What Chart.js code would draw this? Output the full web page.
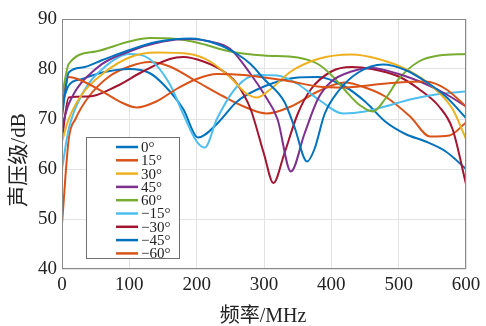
<!DOCTYPE html>
<html>
<head>
<meta charset="utf-8">
<script src="https://cdn.jsdelivr.net/npm/chart.js@4"></script>
<style>
  html, body { margin: 0; padding: 0; background: #fff; }
  #wrap { width: 486px; height: 326px; }
</style>
</head>
<body>
<div id="wrap"><canvas id="c" width="486" height="326"></canvas></div>
<script>
// angle labels (legend order)
const angles = ['0°', '15°', '30°', '45°', '60°', '−15°', '−30°', '−45°', '−60°'];
const colors = ['#0072BD', '#D95319', '#EDB120', '#7E2F8E', '#77AC30', '#4DBEEE', '#A2142F', '#0072BD', '#D95319'];

// frequency (MHz) / sound pressure level (dB) for each angle
const f0 = [0, 10, 30, 60, 100, 140, 190, 230, 260, 280, 300, 330, 345, 364, 375, 390, 410, 440, 477, 510, 540, 570, 600];
const s0 = [70.5, 79.3, 80.3, 81.8, 83.8, 85.4, 86.1, 85, 83, 81, 78, 73.5, 68.5, 61.5, 64, 71, 75.5, 79.3, 80.9, 79.8, 77.5, 74.5, 70.2];

const f15 = [0, 10, 30, 60, 90, 111, 140, 170, 200, 230, 270, 300, 340, 380, 420, 460, 500, 540, 570, 600];
const s15 = [72.5, 78.4, 77.6, 75.5, 73.2, 72.3, 73.5, 76, 78, 79, 78.8, 78.3, 77.5, 76.5, 76.3, 76.8, 77.3, 77.5, 76, 72.5];

const f30 = [0, 10, 30, 60, 100, 140, 190, 220, 250, 275, 290, 310, 340, 380, 430, 470, 510, 550, 580, 600];
const s30 = [65.5, 70, 75, 79, 82.3, 83.3, 83, 81.5, 78.3, 75, 74.3, 76, 79.5, 82, 82.9, 82, 80, 76.5, 72, 66];

const f45 = [0, 10, 50, 100, 150, 190, 220, 250, 280, 300, 320, 340, 360, 380, 400, 430, 460, 500, 540, 570, 600];
const s45 = [68.5, 73, 80, 83.5, 85.5, 86, 85.5, 84, 79, 75, 70, 59.5, 67, 74, 77.5, 79.5, 80.2, 79, 77, 75, 72.5];

const f60 = [0, 10, 50, 100, 130, 170, 200, 250, 300, 350, 380, 400, 420, 440, 462, 480, 500, 530, 560, 600];
const s60 = [74.5, 81, 83.5, 85.5, 86.2, 86, 85.3, 83.5, 82.7, 82.3, 81, 78.8, 75.8, 73, 71.5, 74, 78, 81.5, 82.7, 83];

const fm15 = [0, 10, 30, 60, 100, 130, 160, 180, 200, 212, 230, 260, 290, 320, 350, 380, 418, 450, 480, 520, 560, 600];
const sm15 = [60, 68, 75, 80, 83, 82, 77, 71, 65.5, 64.3, 70, 76.5, 78.8, 78.7, 77, 74, 71.1, 71.5, 72.5, 74, 75, 75.5];

const fm30 = [0, 10, 40, 80, 120, 160, 180, 210, 240, 260, 280, 300, 314, 330, 350, 370, 400, 430, 460, 500, 530, 560, 580, 600];
const sm30 = [66, 74.3, 74.5, 76.5, 79.5, 82, 82.4, 81.5, 79.5, 77, 72, 63, 57.2, 63, 71, 76, 79.5, 80.4, 80, 78.5, 76, 72.5, 68, 57];

const fm45 = [0, 10, 30, 60, 100, 130, 150, 180, 202, 230, 260, 300, 350, 380, 420, 450, 480, 510, 540, 570, 600];
const sm45 = [73, 76.7, 78, 79.3, 80, 79.2, 77, 72, 66.3, 69, 73.5, 76.5, 78.3, 78.4, 76.5, 73.5, 69.5, 67, 65.5, 63.5, 60];

const fm60 = [0, 10, 20, 40, 70, 100, 130, 160, 200, 240, 270, 304, 340, 380, 420, 450, 480, 517, 547, 575, 600];
const sm60 = [49, 66, 70, 74.5, 78.5, 80.5, 81.4, 80.5, 77.5, 74.5, 72.5, 71.1, 72.5, 75.5, 77.3, 76.3, 74.5, 70.5, 66.5, 66.7, 69.3];

const xTicks = [0, 100, 200, 300, 400, 500, 600];
const yTicks = [40, 50, 60, 70, 80, 90];

const freqs = [f0, f15, f30, f45, f60, fm15, fm30, fm45, fm60];
const spls = [s0, s15, s30, s45, s60, sm15, sm30, sm45, sm60];

const serif = '"Liberation Serif", "Times New Roman", serif';
const cjk = '"Liberation Serif", "Noto Sans CJK SC", serif';

const datasets = angles.map((a, i) => ({
    label: a,
    data: freqs[i].map((f, j) => ({ x: f, y: spls[i][j] })),
    borderColor: colors[i],
    backgroundColor: colors[i],
    borderWidth: 2,
    pointRadius: 0,
    cubicInterpolationMode: 'monotone',
    fill: false
}));

// box around plot, axis titles, legend inside the axes (bottom-left)
const framePlugin = {
    id: 'frame',
    afterDatasetsDraw(chart) {
        const { ctx, chartArea: a } = chart;
        ctx.save();
        ctx.strokeStyle = '#8a8a8a';
        ctx.lineWidth = 1;
        ctx.strokeRect(a.left + 0.5, a.top + 0.5, a.right - a.left - 1, a.bottom - a.top - 1);

        // axis titles
        ctx.fillStyle = '#222';
        ctx.font = '20px ' + cjk;
        ctx.textAlign = 'center';
        ctx.textBaseline = 'middle';
        ctx.fillText('频率/MHz', 263, 317);
        ctx.translate(19, 160);
        ctx.rotate(-Math.PI / 2);
        ctx.font = '21px ' + cjk;
        ctx.fillText('声压级/dB', 0, 0);
        ctx.setTransform(1, 0, 0, 1, 0, 0);
        ctx.textAlign = 'left';

        // legend box
        const lx = 86, ly = 137, lw = 93, lh = 121;
        ctx.fillStyle = '#fff';
        ctx.fillRect(lx, ly, lw, lh);
        ctx.strokeStyle = '#6f6f6f';
        ctx.lineWidth = 1;
        ctx.strokeRect(lx + 0.5, ly + 0.5, lw, lh);
        ctx.font = '15px ' + serif;
        chart.data.datasets.forEach((ds, i) => {
            const y = ly + 10 + i * 13.3;
            ctx.strokeStyle = ds.borderColor;
            ctx.lineWidth = 2.5;
            ctx.beginPath();
            ctx.moveTo(lx + 30, y);
            ctx.lineTo(lx + 52, y);
            ctx.stroke();
            ctx.fillStyle = '#222';
            ctx.fillText(ds.label, lx + 55, y + 1);
        });
        ctx.restore();
    }
};

new Chart(document.getElementById('c'), {
    type: 'line',
    data: { datasets },
    options: {
        responsive: false,
        animation: false,
        layout: { padding: { top: 19, right: 20, left: 0, bottom: 0 } },
        plugins: { legend: { display: false }, tooltip: { enabled: false } },
        scales: {
            x: {
                type: 'linear',
                min: 0, max: 600,
                afterBuildTicks: s => { s.ticks = xTicks.map(v => ({ value: v })); },
                grid: { color: '#e3e3e3', drawTicks: false },
                border: { display: false },
                ticks: { color: '#222', font: { family: serif, size: 19 }, padding: 5, maxRotation: 0 },
                afterFit: s => { s.height = 57; }
            },
            y: {
                min: 40, max: 90,
                afterBuildTicks: s => { s.ticks = yTicks.map(v => ({ value: v })); },
                grid: { color: '#e3e3e3', drawTicks: false },
                border: { display: false },
                ticks: { color: '#222', font: { family: serif, size: 19 }, padding: 5 },
                afterFit: s => { s.width = 62; }
            }
        }
    },
    plugins: [framePlugin]
});
</script>
</body>
</html>
